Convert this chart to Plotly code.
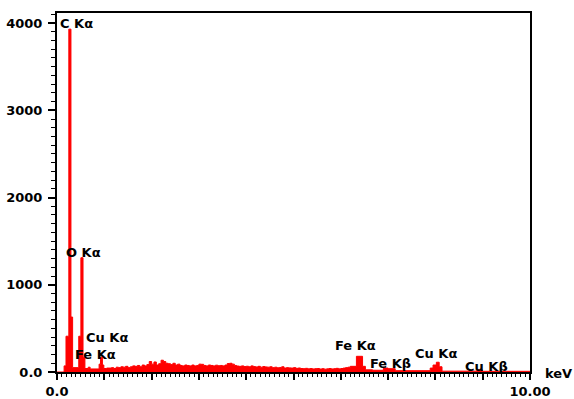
import plotly.graph_objects as go

# EDS spectrum: channel start energies (keV) and counts, drawn as a filled step trace
energy_kev = [
    0.00, 0.15, 0.19, 0.25, 0.295, 0.33, 0.46, 0.505, 0.55, 0.59, 0.66, 0.70,
    0.89, 0.92, 0.96, 0.99, 1.05,
    1.10, 1.15, 1.20, 1.25, 1.30,
    1.35, 1.40, 1.45, 1.50, 1.55, 1.60,
    1.65, 1.70, 1.75, 1.80, 1.85, 1.90,
    1.95, 2.00, 2.05, 2.10, 2.15, 2.20,
    2.25, 2.30, 2.35, 2.40, 2.45, 2.50,
    2.55, 2.60, 2.65, 2.70, 2.75, 2.80,
    2.85, 2.90, 2.95, 3.00, 3.05, 3.10,
    3.15, 3.20, 3.25, 3.30, 3.35, 3.40,
    3.45, 3.50, 3.55, 3.60, 3.65, 3.70,
    3.75, 3.80, 3.85, 3.90, 3.95, 4.00,
    4.05, 4.10, 4.15, 4.20, 4.25, 4.30,
    4.35, 4.40, 4.45, 4.50, 4.55, 4.60,
    4.65, 4.70, 4.75, 4.80, 4.85, 4.90,
    4.95, 5.00, 5.05, 5.10, 5.15, 5.20,
    5.25, 5.30, 5.35, 5.40, 5.45, 5.50,
    5.55, 5.60, 5.65, 5.70, 5.75, 5.80,
    5.85, 5.90, 5.95, 6.00, 6.05, 6.10,
    6.15, 6.20,
    6.33, 6.46, 6.52, 6.67, 6.90, 7.00, 7.15,
    7.89, 7.95, 8.02, 8.08, 8.14, 8.88, 8.99, 10.00,
]
counts = [
    0, 70, 410, 3930, 630, 50, 410, 1310, 170, 40, 55, 35,
    90, 170, 80, 40, 45,
    45, 50, 40, 55, 50,
    60, 55, 65, 50, 60, 70,
    65, 75, 60, 80, 70, 85,
    120, 90, 115, 80, 95, 135,
    120, 100, 95, 85, 100, 80,
    90, 75, 70, 80, 75, 70,
    80, 70, 75, 90, 88, 75,
    70, 80, 75, 70, 78, 72,
    75, 70, 80, 97, 100, 90,
    75, 68, 65, 70, 62, 66,
    60, 70, 62, 58, 65, 55,
    62, 58, 55, 60, 50, 55,
    48, 52, 60, 45, 50, 47,
    45, 50, 42, 46, 40, 38,
    42, 36, 40, 35, 38, 40,
    34, 38, 32, 36, 40, 35,
    38, 42, 36, 40, 45, 50,
    55, 65,
    180, 65, 25, 20, 45, 38, 15,
    45, 80, 112, 60, 10, 25, 8, 8,
]
assert len(energy_kev) == len(counts)

# Peak labels: text, energy (keV), label height (counts)
peak_labels = ["C K\u03b1", "O K\u03b1", "Cu K\u03b1", "Fe K\u03b1",
               "Fe K\u03b1", "Fe K\u03b2", "Cu K\u03b1", "Cu K\u03b2"]
peak_label_x = [0.41, 0.57, 1.06, 0.81, 6.32, 7.06, 8.02, 9.07]
peak_label_y = [4000, 1370, 401, 195, 304, 97, 212, 63]

x_tick_vals = [0, 1, 2, 3, 4, 5, 6, 7, 8, 9, 10]
x_tick_text = ["0.0", "", "", "", "", "", "", "", "", "", "10.00"]
y_tick_vals = [0, 1000, 2000, 3000, 4000]
y_tick_text = ["0.0", "1000", "2000", "3000", "4000"]

FONT = "DejaVu Sans"
label_font = dict(family=FONT, size=13, color="black", weight="bold")

fig = go.Figure()
fig.add_trace(go.Scatter(
    x=energy_kev, y=counts, mode="lines", line_shape="hv",
    line=dict(color="#ff0000", width=1),
    fill="tozeroy", fillcolor="#ff0000",
    hoverinfo="x+y", showlegend=False,
))

for txt, lx, ly in zip(peak_labels, peak_label_x, peak_label_y):
    fig.add_annotation(x=lx, y=ly, xref="x", yref="y", text=txt,
                       showarrow=False, xanchor="center", yanchor="middle",
                       font=label_font)

fig.add_annotation(x=1.06, y=-0.004, xref="paper", yref="paper", text="keV",
                   showarrow=False, xanchor="center", yanchor="middle",
                   font=label_font)

fig.update_layout(
    width=574, height=399,
    margin=dict(l=57, r=44, t=13, b=27),
    paper_bgcolor="white", plot_bgcolor="white",
    font=dict(family=FONT, color="black"),
)
fig.update_xaxes(
    range=[0, 10], showgrid=False, zeroline=False, automargin=False,
    showline=True, linecolor="black", linewidth=2, mirror=True,
    ticks="outside", ticklen=6, tickwidth=1.5, tickcolor="black",
    tickvals=x_tick_vals, ticktext=x_tick_text,
    tickfont=dict(family=FONT, size=13, color="black", weight="bold"),
    ticklabelstandoff=0,
    minor=dict(dtick=0.1, ticks="outside", ticklen=3, tickwidth=1, tickcolor="black"),
)
fig.update_yaxes(
    range=[0, 4115], showgrid=False, zeroline=False, automargin=False,
    showline=True, linecolor="black", linewidth=2, mirror=True,
    ticks="outside", ticklen=7, tickwidth=1.5, tickcolor="black",
    tickvals=y_tick_vals, ticktext=y_tick_text,
    tickfont=dict(family=FONT, size=13, color="black", weight="bold"),
    ticklabelstandoff=3,
    minor=dict(dtick=100, ticks="outside", ticklen=4, tickwidth=1, tickcolor="black"),
)

fig.write_html("out.html")
